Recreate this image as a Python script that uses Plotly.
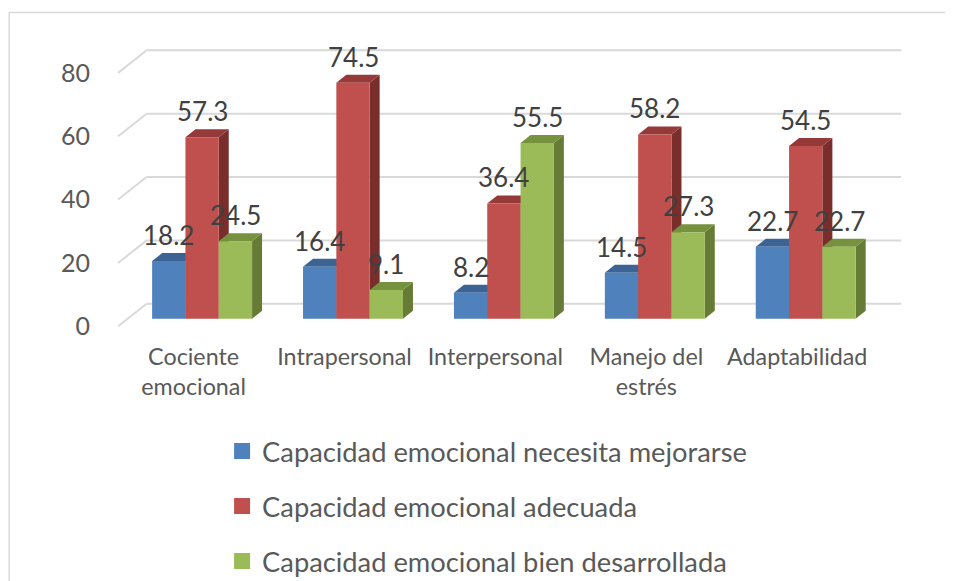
import plotly.graph_objects as go

categories = ["Cociente<br>emocional", "Intrapersonal", "Interpersonal", "Manejo del<br>estrés", "Adaptabilidad"]
series_names = ["Capacidad emocional necesita mejorarse",
                "Capacidad emocional adecuada",
                "Capacidad emocional bien desarrollada"]
necesita = [18.2, 16.4, 8.2, 14.5, 22.7]
adecuada = [57.3, 74.5, 36.4, 58.2, 54.5]
bien = [24.5, 9.1, 55.5, 27.3, 22.7]
y_ticks = [0, 20, 40, 60, 80]

values = [necesita, adecuada, bien]
front_colors = ["#4F81BD", "#C0504D", "#9BBB59"]
top_colors = ["#3B6495", "#953A38", "#77923F"]
side_colors = ["#385D8A", "#7A2E2C", "#667B36"]

FONT = "Lato, Open Sans, sans-serif"
OFF = 8  # page body margin offset
W, H = 953 - OFF, 581 - OFF
UX = 151.0         # px per category
KY = 3.165         # px per value unit
Y0_PX = 319.0 - OFF    # px of value 0 (bar front)
X_LEFT_PX = 126.5 - OFF  # px of category -0.5 (bar front plane)
XR = [-0.65, 4.85]
YR = [-6, 88]
ml = X_LEFT_PX + (XR[0] + 0.5) * UX
mr = W - (X_LEFT_PX + (XR[1] + 0.5) * UX)
mt = Y0_PX - YR[1] * KY
plot_bottom_px = Y0_PX - YR[0] * KY
mb = 0
paper_h = H - mt - mb
y_dom0 = (H - plot_bottom_px) / paper_h

# 3D depth offsets (in data units)
BAR_DX, BAR_DY = 10 / UX, 8 / KY
BACK_DX, BACK_DY = 20 / UX, 15 / KY
FRONT_DX, FRONT_DY = -8.5 / UX, -7.5 / KY

bargap = 1 - 100 / UX
bw = (1 - bargap) / 3

fig = go.Figure()
n = len(categories)
xs = list(range(n))
for j, (name, vals) in enumerate(zip(series_names, values)):
    fig.add_trace(go.Bar(x=xs, y=vals, name=name, marker=dict(color=front_colors[j], line=dict(width=0)),
                         showlegend=False, hoverinfo="y"))
    fig.add_trace(go.Scatter(x=[None], y=[None], mode="markers", name=name,
                             marker=dict(symbol="square", size=16, color=front_colors[j]),
                             legendgroup=f"g{j}", showlegend=True))

shapes = []
gc = "#D9D9D9"
for v in y_ticks:
    xb0 = -0.5 + BACK_DX
    xb1 = n - 0.5 + BACK_DX
    shapes.append(dict(type="line", xref="x", yref="y", x0=xb0, x1=xb1, y0=v + BACK_DY, y1=v + BACK_DY,
                       line=dict(color=gc, width=2), layer="below"))
    shapes.append(dict(type="line", xref="x", yref="y", x0=-0.5 + FRONT_DX, y0=v + FRONT_DY,
                       x1=xb0, y1=v + BACK_DY, line=dict(color=gc, width=2), layer="below"))

annotations = []
for i in range(n):
    for j in range(3):
        h = values[j][i]
        xc = i + (j - 1) * bw
        x0, x1 = xc - bw / 2, xc + bw / 2
        side = f"M{x1},0 L{x1 + BAR_DX},{BAR_DY} L{x1 + BAR_DX},{h + BAR_DY} L{x1},{h} Z"
        top = f"M{x0},{h} L{x1},{h} L{x1 + BAR_DX},{h + BAR_DY} L{x0 + BAR_DX},{h + BAR_DY} Z"
        shapes.append(dict(type="path", path=side, xref="x", yref="y", fillcolor=side_colors[j],
                           line=dict(width=0), layer="below"))
        shapes.append(dict(type="path", path=top, xref="x", yref="y", fillcolor=top_colors[j],
                           line=dict(width=0), layer="below"))
        annotations.append(dict(x=xc, y=h, xref="x", yref="y", text=f"{h:.1f}", showarrow=False,
                                yshift=26, font=dict(family=FONT, size=26, color="#404040")))

pw = W - ml - mr
def px2paper_x(px):
    return (px - OFF - ml) / pw
def px2paper_y(py):
    return (H - mb - (py - OFF)) / paper_h

shapes.append(dict(type="rect", xref="paper", yref="paper",
                   x0=px2paper_x(9), x1=px2paper_x(975), y0=px2paper_y(13), y1=px2paper_y(600),
                   line=dict(color="#D9D9D9", width=1.5), fillcolor="rgba(0,0,0,0)", layer="below"))

fig.update_layout(
    width=W, height=H,
    margin=dict(l=ml, r=mr, t=mt, b=mb, pad=0, autoexpand=False),
    paper_bgcolor="white", plot_bgcolor="white",
    barmode="group", bargap=bargap, bargroupgap=0,
    font=dict(family=FONT, color="#595959"),
    shapes=shapes, annotations=annotations,
    xaxis=dict(range=XR, tickvals=[i + FRONT_DX for i in xs], ticktext=categories,
               showgrid=False, zeroline=False, showline=False, ticks="", automargin=False,
               ticklabelstandoff=3,
               tickfont=dict(family=FONT, size=23.3, color="#595959"), fixedrange=True),
    yaxis=dict(range=YR, domain=[y_dom0, 1], tickvals=[v + FRONT_DY for v in y_ticks],
               ticktext=[str(v) for v in y_ticks], automargin=False,
               showgrid=False, zeroline=False, showline=False, ticks="", ticklabelstandoff=13,
               tickfont=dict(family=FONT, size=25, color="#595959"), fixedrange=True),
    legend=dict(orientation="v", x=px2paper_x(222), xanchor="left", y=px2paper_y(427), yanchor="top",
                font=dict(family=FONT, size=27.3, color="#595959"), tracegroupgap=16.5,
                bgcolor="rgba(0,0,0,0)"),
    showlegend=True,
)

fig.write_html("out.html")
